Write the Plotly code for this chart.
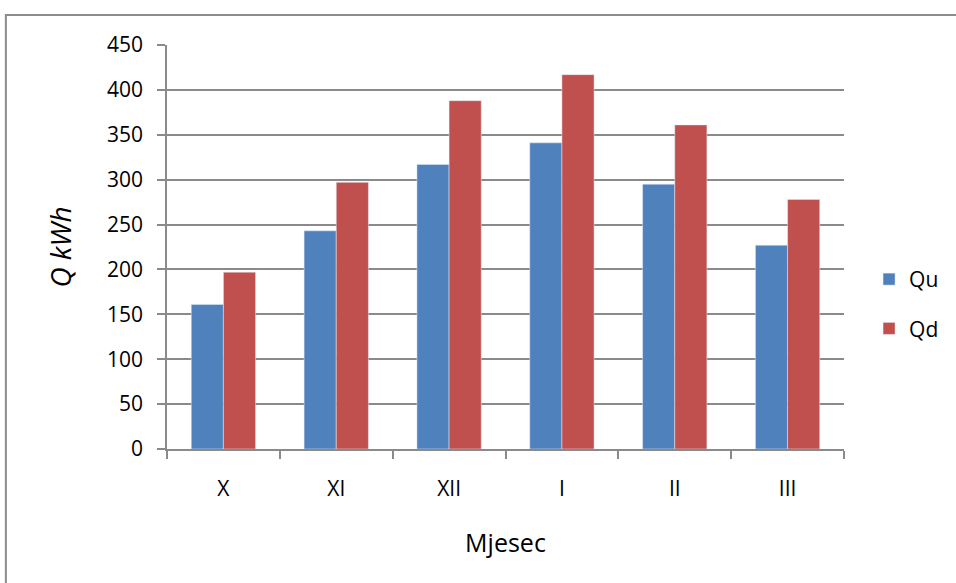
import plotly.graph_objects as go

months = ["X", "XI", "XII", "I", "II", "III"]
qu = [161, 243, 317, 341, 295, 227]
qd = [197, 297, 388, 417, 361, 278]

font = "'Open Sans', sans-serif"
grid = "#8a8a8a"

fig = go.Figure()
fig.add_trace(go.Bar(x=months, y=qu, name="Qu", marker_color="#4F81BD",
                     legendgroup="a"))
fig.add_trace(go.Bar(x=months, y=qd, name="Qd", marker_color="#C0504D",
                     legendgroup="b"))

# outer chart frame
fig.add_shape(type="rect", xref="paper", yref="paper",
              x0=-0.238, x1=1.3, y0=-0.4, y1=1.074,
              line=dict(color="#8c8c8c", width=2), layer="below")

fig.update_layout(
    width=956, height=583,
    margin=dict(l=167, r=108, t=45, b=134),
    plot_bgcolor="white", paper_bgcolor="white",
    font=dict(family=font, size=21, color="black"),
    barmode="group", bargap=0.43, bargroupgap=0,
    showlegend=True,
    legend=dict(x=1.037, y=0.359, yanchor="middle", xanchor="left",
                traceorder="grouped", tracegroupgap=19,
                font=dict(size=21), itemwidth=30),
    xaxis=dict(showline=True, linecolor=grid, linewidth=1.5,
               ticks="outside", tickson="boundaries", ticklen=8,
               tickcolor=grid, tickwidth=1.5, ticklabelstandoff=20,
               title=dict(text="Mjesec", standoff=34)),
    yaxis=dict(range=[0, 450], dtick=50, showline=True, linecolor=grid,
               linewidth=1.5, showgrid=True, gridcolor=grid, gridwidth=1.5,
               ticks="outside", ticklen=8, tickcolor=grid, tickwidth=1.5,
               ticklabelstandoff=10, zeroline=False,
               title=dict(text="<i>Q kWh</i>", font=dict(size=28), standoff=27)),
)

# page body has a default 8px margin; drop it so the chart sits at 0,0
fig.write_html("out.html", config={"displayModeBar": False},
               post_script="document.body.style.margin='0';")
